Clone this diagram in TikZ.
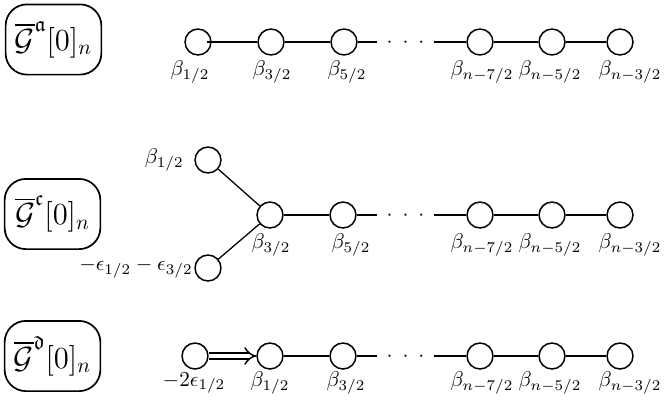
\documentclass[tikz,border=0pt]{standalone}
\usepackage{amsmath,amssymb}
\usetikzlibrary{arrows.meta}
\newcommand{\mydots}{$\cdotp\mkern5.5mu\cdotp\mkern5.5mu\cdotp$}
\begin{document}
\begin{tikzpicture}[x=0.47pt,y=-0.47pt,
  dnode/.style={circle,draw,line width=0.7pt,minimum size=12.2pt,inner sep=0pt},
  bond/.style={line width=1.2pt},
  thinbond/.style={line width=0.6pt},
  lab/.style={inner sep=0pt},
  namebox/.style={draw,rounded corners=10pt,line width=0.8pt,minimum width=45pt,minimum height=33pt,inner sep=0pt},
  dotsnode/.style={inner xsep=4.2pt,inner ysep=0pt,anchor=base}
]
\useasboundingbox (0,0) rectangle (665,401);

% name boxes
\node[namebox] (ba) at (53.5,39.5) {\Large$\overline{\mathcal{G}}^{\mathfrak{a}}[0]_n$};
\node[namebox] (bc) at (52.5,214) {\Large$\overline{\mathcal{G}}^{\mathfrak{c}}[0]_n$};
\node[namebox] (bd) at (52.5,356) {\Large$\overline{\mathcal{G}}^{\mathfrak{d}}[0]_n$};

% row 1
\node[dnode] (a1) at (198,42) {};
\node[dnode] (a2) at (271,42) {};
\node[dnode] (a3) at (344,42) {};
\node[dotsnode] (ad) at (405.5,47.3) {\mydots};
\node[dnode] (a4) at (480,42) {};
\node[dnode] (a5) at (552,42) {};
\node[dnode] (a6) at (620,42) {};
\draw[bond] ([xshift=4pt]a1.center) -- (a2);
\draw[bond] (a2) -- (a3);
\draw[bond] (a3) -- (a3 -| ad.west);
\draw[bond] (a4 -| ad.east) -- (a4);
\draw[bond] (a4) -- (a5);
\draw[bond] (a5) -- (a6);
\node[lab] (la1) at (190,72) {$\beta_{1/2}$};
\node[lab] (la2) at (272,72) {$\beta_{3/2}$};
\node[lab] (la3) at (347,72) {$\beta_{5/2}$};
\node[lab] (la4) at (482,72) {$\beta_{n-7/2}$};
\node[lab] (la5) at (550,72) {$\beta_{n-5/2}$};
\node[lab] (la6) at (630,72) {$\beta_{n-3/2}$};

% row 2
\node[dnode] (b1) at (208,160) {};
\node[dnode] (b0) at (208,268) {};
\node[dnode] (b2) at (270,215) {};
\node[dnode] (b3) at (343,215) {};
\node[dotsnode] (bdots) at (405.5,220.3) {\mydots};
\node[dnode] (b4) at (480,215) {};
\node[dnode] (b5) at (552,215) {};
\node[dnode] (b6) at (620,215) {};
\draw[thinbond] (b1) -- (b2);
\draw[thinbond] (b0) -- (b2);
\draw[bond] (b2) -- (b3);
\draw[bond] (b3) -- (b3 -| bdots.west);
\draw[bond] (b4 -| bdots.east) -- (b4);
\draw[bond] (b4) -- (b5);
\draw[bond] (b5) -- (b6);
\node[lab,anchor=east] (lb1) at (184,160) {$\beta_{1/2}$};
\node[lab,anchor=east] (lb0) at (193,268) {$-\epsilon_{1/2}-\epsilon_{3/2}$};
\node[lab] (lb2) at (271,245) {$\beta_{3/2}$};
\node[lab] (lb3) at (351,245) {$\beta_{5/2}$};
\node[lab] (lb4) at (482,245) {$\beta_{n-7/2}$};
\node[lab] (lb5) at (550,245) {$\beta_{n-5/2}$};
\node[lab] (lb6) at (630,245) {$\beta_{n-3/2}$};

% row 3
\node[dnode] (c0) at (195,356) {};
\node[dnode] (c1) at (270,356) {};
\node[dnode] (c2) at (343,356) {};
\node[dotsnode] (cdots) at (405.5,361.3) {\mydots};
\node[dnode] (c3) at (480,356) {};
\node[dnode] (c4) at (552,356) {};
\node[dnode] (c5) at (620,356) {};
\draw[double,double distance=2.2pt,line width=0.7pt,-{Implies}] (c0) -- (c1);
\draw[bond] (c1) -- (c2);
\draw[bond] (c2) -- (c2 -| cdots.west);
\draw[bond] (c3 -| cdots.east) -- (c3);
\draw[bond] (c3) -- (c4);
\draw[bond] (c4) -- (c5);
\node[lab] (lc0) at (194,383) {$-2\epsilon_{1/2}$};
\node[lab] (lc1) at (270,383) {$\beta_{1/2}$};
\node[lab] (lc2) at (346,383) {$\beta_{3/2}$};
\node[lab] (lc3) at (482,383) {$\beta_{n-7/2}$};
\node[lab] (lc4) at (550,383) {$\beta_{n-5/2}$};
\node[lab] (lc5) at (630,383) {$\beta_{n-3/2}$};
\end{tikzpicture}
\end{document}
